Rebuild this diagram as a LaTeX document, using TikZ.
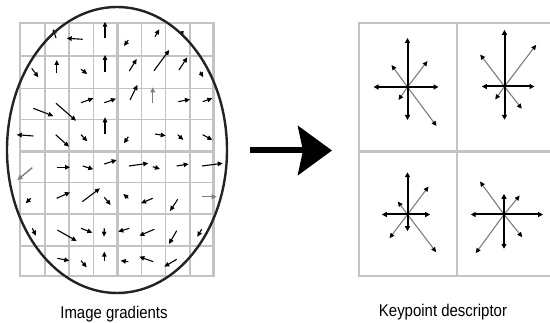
\documentclass[tikz,border=0pt]{standalone}
\usepackage{fontspec}
\setmainfont{Liberation Sans}
\usetikzlibrary{arrows.meta}
\definecolor{gridgray}{RGB}{195,195,195}
\definecolor{rimblack}{RGB}{35,35,35}
\definecolor{diaggray}{RGB}{125,125,125}

\begin{document}
\begin{tikzpicture}[x=1pt, y=-1pt,
    thingrid/.style={gridgray, line width=1.2pt},
    thickgrid/.style={gridgray, line width=2.4pt},
    grad/.style={line width=1.1pt, -{Triangle[length=5pt,width=4.5pt]}},
    faintgrad/.style={grad, diaggray, line width=1.4pt},
    axisarr/.style={line width=2pt, -{Triangle[length=5pt,width=5pt]}},
    diagarr/.style={diaggray, line width=1.1pt, -{Triangle[length=5pt,width=4.5pt,black]}},
    caption/.style={font=\fontsize{17}{20}\selectfont, anchor=base, inner sep=0pt}]
    \useasboundingbox (0,0) rectangle (550,323);

    % image gradients
    \foreach \gx in {45,69,93.3,141.7,165.7,190}
        \draw[thingrid] (\gx,23.3) -- (\gx,276.3);
    \foreach \gy in {56,88.3,119.3,182.7,214,246}
        \draw[thingrid] (20,\gy) -- (213.3,\gy);
    \draw[thickgrid] (20,23.3) rectangle (213.3,276.3);
    \draw[thickgrid] (117.3,23.3) -- (117.3,276.3) (20,151.7) -- (213.3,151.7);

    \foreach \ax/\ay/\bx/\by in {
        56/38/53/29, 82.7/39.3/66.7/38.3, 105/38.3/105/21.7, 128.3/40/124/46,
        155/36.7/159.3/29.3, 181.3/31.3/183/36.3,
        31.7/68.3/38.3/77.3, 56.7/72.7/56.7/60, 81/69.3/87.3/74, 105/71.7/105/55,
        129.3/71/136.7/59, 154/70.7/169.3/50, 179/70/187.3/57.3, 200/71.7/203.3/77.3,
        33.3/108.3/53.3/116, 56/103.3/76/120.7, 81/102.7/93.3/98.3, 104.3/102.7/116/98.7,
        130/100/137.3/85, 178.3/101.7/190/99.3, 202.7/101.7/212.3/98.3,
        33.3/136/16.7/134.7, 55.7/134.7/69/146.7, 81/134.7/87.3/141.3, 105/134/105/117.3,
        128.3/136.7/124/143.3, 155/134/165.7/135.7, 177.7/134.7/183.3/140, 202.7/134.7/212.3/140,
        56.7/167.3/70/167.3, 82.7/166/93.3/169.3, 104.3/164/116.7/160,
        129/166/148.3/163.3, 152.7/166.7/160/169, 176.7/166/188.7/164, 202/166/222.7/163.3,
        30.7/198.3/25.7/203.3, 56.7/198.3/70/192.3, 82.3/201.7/100/188.3, 104.3/197.3/110.7/205,
        128.3/198.3/123.3/194, 152.7/198.3/141/203.3, 177.7/199.3/170/211,
        32.3/228.3/36/235.7, 57.3/230/76.7/241, 81/228.3/92.3/232.7, 104.3/228.3/104/236.7,
        129.3/228.3/118.3/231.7, 154.3/229.3/139.3/235.7, 176.7/230.7/169/244, 201.7/229.3/197.3/236.7,
        57.3/258.3/69.3/260.7, 81/260.7/86.7/267.3, 104.3/260.7/104.3/251.7,
        128.3/261.7/120.7/260.7, 153.3/261.7/139.3/256.7, 176.7/259.3/164.3/266.7}
        \draw[grad] (\ax,\ay) -- (\bx,\by);
    \foreach \ax/\ay/\bx/\by in {152.7/103.3/152.7/87.3, 32.3/167.7/17.3/180, 202.3/196.7/216.7/196.7}
        \draw[faintgrad] (\ax,\ay) -- (\bx,\by);

    \draw[rimblack, line width=2.4pt] (117,150) ellipse [x radius=110pt, y radius=143pt];

    % big arrow
    \coordinate (arrowtail) at (250,150.5);
    \coordinate (arrowtip) at (332,150.5);
    \draw[line width=6pt, -{Stealth[length=34pt,width=49pt,inset=5pt]}] (arrowtail) -- (arrowtip);

    % keypoint descriptor
    \begin{scope}
        \clip (0,0) rectangle (550,323);
        \draw[thickgrid] (359,23.3) rectangle (556,276.3);
        \draw[thickgrid] (457,23.3) -- (457,276.3) (359,151.7) -- (556,151.7);
    \end{scope}

    \begin{scope}[shift={(407.5,87)}]
        \foreach \dx/\dy in {20/-26, -16/-22, -9/13, 29/39}
            \draw[diagarr] (0,0) -- (\dx,\dy);
        \foreach \dx/\dy in {0/-49, 0/33, -34/0, 31/0}
            \draw[axisarr] (0,0) -- (\dx,\dy);
    \end{scope}
    \begin{scope}[shift={(504.5,86.5)}]
        \foreach \dx/\dy in {31.7/-41.7, -24.3/-32, -9.3/13, 17.3/22.3}
            \draw[diagarr] (0,0) -- (\dx,\dy);
        \foreach \dx/\dy in {0/-56.7, 0/33.3, -22.7/0, 30/0}
            \draw[axisarr] (0,0) -- (\dx,\dy);
    \end{scope}
    \begin{scope}[shift={(407.5,214.5)}]
        \foreach \dx/\dy in {21/-28, -9.7/-13, -18/23.7, 28.7/37.7}
            \draw[diagarr] (0,0) -- (\dx,\dy);
        \foreach \dx/\dy in {0/-42.3, 0/16.7, -25.7/0, 22.7/0}
            \draw[axisarr] (0,0) -- (\dx,\dy);
    \end{scope}
    \begin{scope}[shift={(504,214.5)}]
        \foreach \dx/\dy in {15.7/-19, -24/-33, -28.3/38.7, 18.3/22.7}
            \draw[diagarr] (0,0) -- (\dx,\dy);
        \foreach \dx/\dy in {0/-20.7, 0/34.3, -33.3/0, 39/0}
            \draw[axisarr] (0,0) -- (\dx,\dy);
    \end{scope}

    \node[caption] (imglabel) at (114,318.3) {\scalebox{0.88}[1]{Image gradients}};
    \node[caption] (desclabel) at (443,316.7) {\scalebox{0.88}[1]{Keypoint descriptor}};
\end{tikzpicture}
\end{document}
